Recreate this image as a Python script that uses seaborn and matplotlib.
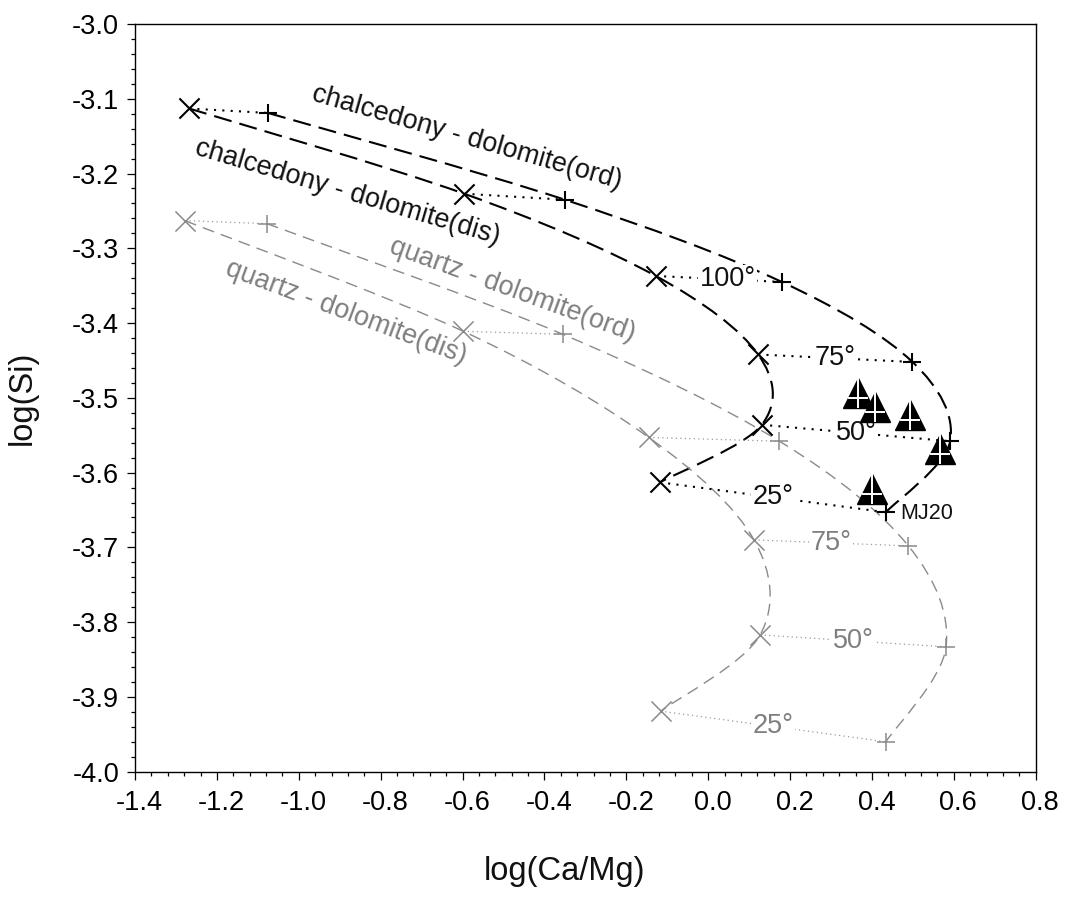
import numpy as np
import pandas as pd
import matplotlib
matplotlib.use("Agg")
import matplotlib.pyplot as plt
from matplotlib.path import Path
from matplotlib.patches import PathPatch
from matplotlib.transforms import ScaledTranslation
from matplotlib.ticker import MultipleLocator, FormatStrFormatter
import seaborn as sns

# ---------------- data ----------------
chal_tie_labels = ["", "", "100°", "75°", "50°", "25°"]
chal_label_frac = [0.5, 0.5, 0.57, 0.5, 0.5, 0.5]
qtz_tie_labels = ["", "", "", "75°", "50°", "25°"]
qtz_label_frac = [0.5, 0.5, 0.5, 0.5, 0.5, 0.5]

chal_dis_x = [-1.268, -0.596, -0.128, 0.122, 0.131, -0.118]
chal_dis_y = [-3.113, -3.227, -3.337, -3.442, -3.536, -3.613]
chal_ord_x = [-1.075, -0.350, 0.180, 0.499, 0.591, 0.434]
chal_ord_y = [-3.119, -3.235, -3.345, -3.452, -3.558, -3.653]

qtz_dis_x = [-1.278, -0.598, -0.145, 0.112, 0.127, -0.116]
qtz_dis_y = [-3.263, -3.411, -3.553, -3.690, -3.817, -3.919]
qtz_ord_x = [-1.078, -0.355, 0.174, 0.489, 0.581, 0.434]
qtz_ord_y = [-3.267, -3.415, -3.558, -3.698, -3.833, -3.960]

sample_x = [0.367, 0.407, 0.493, 0.566, 0.401]
sample_y = [-3.494, -3.512, -3.523, -3.568, -3.622]
sample_name = "MJ20"

curve_labels = ["chalcedony - dolomite(ord)", "chalcedony - dolomite(dis)",
                "quartz - dolomite(ord)", "quartz - dolomite(dis)"]
curve_label_x = [-0.590, -0.880, -0.478, -0.884]
curve_label_y = [-3.152, -3.226, -3.356, -3.386]
curve_label_rot = [-16, -16.5, -20, -20.5]

x_ticks = [-1.4, -1.2, -1.0, -0.8, -0.6, -0.4, -0.2, 0.0, 0.2, 0.4, 0.6, 0.8]
y_ticks = [-4.0, -3.9, -3.8, -3.7, -3.6, -3.5, -3.4, -3.3, -3.2, -3.1, -3.0]

# ---------------- style ----------------
sns.set_style("ticks")
plt.rcParams["font.family"] = ["Liberation Sans", "DejaVu Sans"]
plt.rcParams["axes.unicode_minus"] = False

BLACK = "#000000"
GRAY = "#8a8a8a"
GRAY_TXT = "#7f7f7f"
GRAY_DOT = "#9a9a9a"
FS = 19.5

fig = plt.figure(figsize=(10.65, 9), dpi=100)
ax = fig.add_axes([0.12676, 0.14256, 0.84573, 0.83077])
ax.set_xlim(x_ticks[0], x_ticks[-1])
ax.set_ylim(y_ticks[0], y_ticks[-1])


def smooth_path(xs, ys):
    """Catmull-Rom curve through the points, expressed as cubic Bezier path."""
    pts = ax.transData.transform(np.column_stack([xs, ys]))
    n = len(pts)
    verts = [pts[0]]
    codes = [Path.MOVETO]
    for i in range(n - 1):
        p0 = pts[i - 1] if i > 0 else pts[i]
        p1 = pts[i]
        p2 = pts[i + 1]
        p3 = pts[i + 2] if i + 2 < n else pts[i + 1]
        c1 = p1 + (p2 - p0) / 6.0
        c2 = p2 - (p3 - p1) / 6.0
        verts += [c1, c2, p2]
        codes += [Path.CURVE4] * 3
    verts = ax.transData.inverted().transform(np.array(verts))
    return Path(verts, codes)


# dashed curves
for xs, ys, col, lw, dash in [
    (chal_ord_x, chal_ord_y, BLACK, 1.5, (0, (8.7, 3.9))),
    (chal_dis_x, chal_dis_y, BLACK, 1.5, (0, (8.7, 3.9))),
    (qtz_ord_x, qtz_ord_y, GRAY, 1.0, (0, (8.6, 5.2))),
    (qtz_dis_x, qtz_dis_y, GRAY, 1.0, (0, (8.6, 5.2))),
]:
    ax.add_patch(PathPatch(smooth_path(xs, ys), fill=False, edgecolor=col,
                           lw=lw, linestyle=dash, zorder=2))


# tie lines (dotted) between dis and ord points at same temperature
def tie_frame(xa, ya, xb, yb):
    rows = []
    for i in range(len(xa)):
        rows.append({"x": xa[i], "y": ya[i], "tie": i})
        rows.append({"x": xb[i], "y": yb[i], "tie": i})
    return pd.DataFrame(rows)


chal_ties = tie_frame(chal_dis_x, chal_dis_y, chal_ord_x, chal_ord_y)
qtz_ties = tie_frame(qtz_dis_x, qtz_dis_y, qtz_ord_x, qtz_ord_y)

sns.lineplot(data=chal_ties, x="x", y="y", units="tie", estimator=None, sort=False,
             color=BLACK, linewidth=1.5, linestyle=(0, (1, 3)), ax=ax, zorder=3)
sns.lineplot(data=qtz_ties, x="x", y="y", units="tie", estimator=None, sort=False,
             color=GRAY_DOT, linewidth=0.9, linestyle=(0, (1, 2.6)), ax=ax, zorder=3)

# markers
sns.scatterplot(x=qtz_dis_x, y=qtz_dis_y, marker="x", s=14.5 ** 2, color=GRAY,
                linewidth=1.1, ax=ax, zorder=4)
sns.scatterplot(x=qtz_ord_x, y=qtz_ord_y, marker="+", s=13.5 ** 2, color=GRAY,
                linewidth=1.1, ax=ax, zorder=4)
sns.scatterplot(x=chal_dis_x, y=chal_dis_y, marker="x", s=14.5 ** 2, color=BLACK,
                linewidth=1.5, ax=ax, zorder=5)
sns.scatterplot(x=chal_ord_x, y=chal_ord_y, marker="+", s=13.5 ** 2, color=BLACK,
                linewidth=1.5, ax=ax, zorder=5)

# tie labels
for xa, ya, xb, yb, labs, fracs, col in [
    (chal_dis_x, chal_dis_y, chal_ord_x, chal_ord_y, chal_tie_labels, chal_label_frac, "#111111"),
    (qtz_dis_x, qtz_dis_y, qtz_ord_x, qtz_ord_y, qtz_tie_labels, qtz_label_frac, GRAY_TXT),
]:
    for i, lab in enumerate(labs):
        if not lab:
            continue
        f = fracs[i]
        lx = xa[i] + f * (xb[i] - xa[i])
        ly = ya[i] + f * (yb[i] - ya[i])
        ax.text(lx, ly, lab, fontsize=FS, color=col, ha="center", va="center",
                bbox=dict(facecolor="white", edgecolor="none", pad=1.0), zorder=6)

# curve labels
for lab, lx, ly, rot, col in zip(curve_labels, curve_label_x, curve_label_y,
                                 curve_label_rot,
                                 ["#111111", "#111111", GRAY_TXT, GRAY_TXT]):
    ax.text(lx, ly, lab, fontsize=FS, color=col, rotation=rot,
            rotation_mode="anchor", ha="center", va="center", zorder=6)

# sample triangles with white cross
cross = Path([(0, 1), (0, -1), (-0.667, -0.333), (0.667, -0.333)],
             [Path.MOVETO, Path.LINETO, Path.MOVETO, Path.LINETO])
for i, (sx, sy) in enumerate(zip(sample_x, sample_y)):
    ax.plot([sx], [sy], ls="none", marker="^", ms=21, mfc=BLACK, mec=BLACK,
            mew=1.0, zorder=10 + 2 * i)
    ax.plot([sx], [sy], ls="none", marker=cross, ms=21, mfc="none", mec="white",
            mew=1.4, zorder=11 + 2 * i)

ax.text(chal_ord_x[-1] + 0.034, chal_ord_y[-1] - 0.002, sample_name, fontsize=15.5,
        color="#111111", ha="left", va="center", zorder=20)

# axes / ticks
ax.set_xticks(x_ticks)
ax.set_yticks(y_ticks)
ax.xaxis.set_minor_locator(MultipleLocator(0.04))
ax.yaxis.set_minor_locator(MultipleLocator(0.02))
ax.xaxis.set_major_formatter(FormatStrFormatter("%.1f"))
ax.yaxis.set_major_formatter(FormatStrFormatter("%.1f"))
ax.tick_params(which="both", direction="out", top=False, right=False,
               width=0.9, colors="black")
ax.tick_params(which="major", length=5.5, labelsize=FS)
ax.tick_params(which="minor", length=3.2)
ax.tick_params(axis="x", which="major", pad=8)
ax.tick_params(axis="y", which="major", pad=6)
for sp in ax.spines.values():
    sp.set_visible(True)
    sp.set_color("black")
    sp.set_linewidth(1.0)

shift = ScaledTranslation(0.045, 0, fig.dpi_scale_trans)
for lab in ax.get_xticklabels():
    lab.set_transform(lab.get_transform() + shift)

ax.set_xlabel("log(Ca/Mg)", fontsize=23.5, color="#111111")
ax.set_ylabel("log(Si)", fontsize=23.5, color="#111111")
ax.xaxis.set_label_coords(0.4763, -0.113)
ax.yaxis.set_label_coords(-0.108, 0.5)

fig.savefig("out.png", dpi=100)
